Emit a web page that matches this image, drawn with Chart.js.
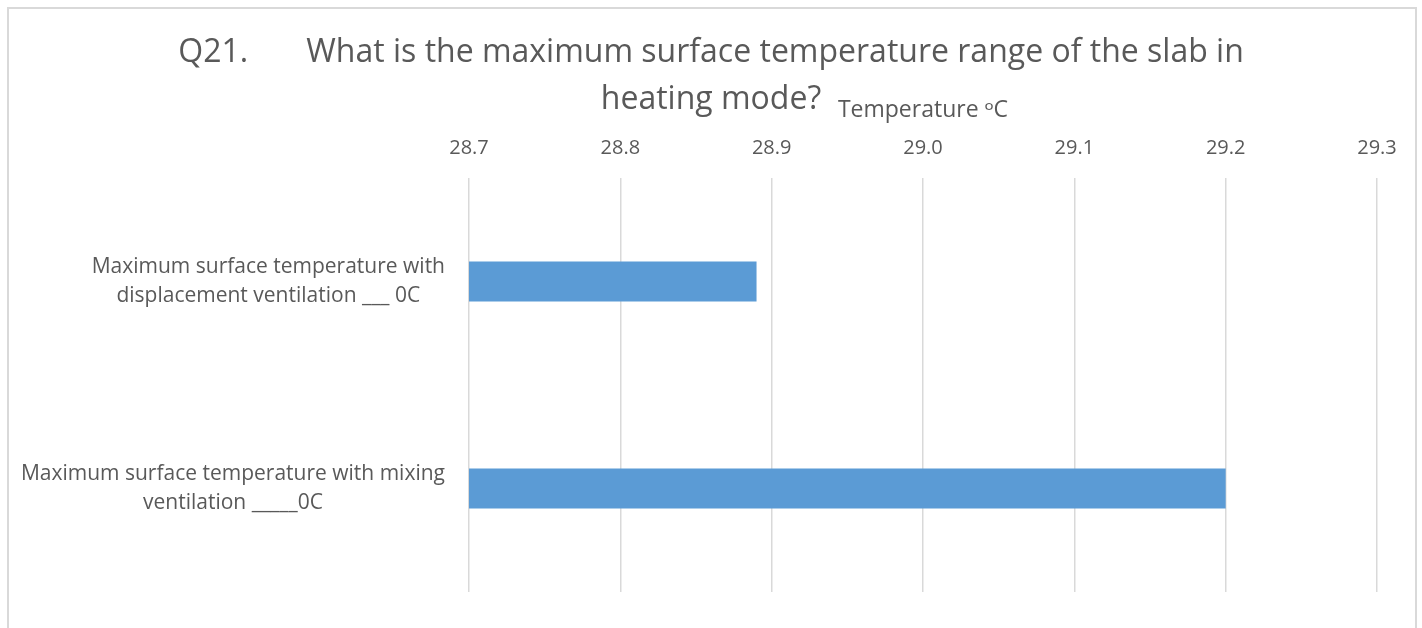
<!DOCTYPE html>
<html>
<head>
<meta charset="utf-8">
<script src="https://cdn.jsdelivr.net/npm/chart.js@4.4.1/dist/chart.umd.min.js"></script>
<style>
  html, body { margin: 0; padding: 0; background: #ffffff; }
  #wrap { position: relative; width: 1422px; height: 628px; }
</style>
</head>
<body>
<div id="wrap"><canvas id="c" width="1422" height="628"></canvas></div>
<script>
// ---- data ----
const categories = [
  ["Maximum surface temperature with", "displacement ventilation ___ 0C"],
  ["Maximum surface temperature with mixing", "ventilation _____0C"]
];
const values = [28.89, 29.20];
const titleLines = ["Q21.       What is the maximum surface temperature range of the slab in", "heating mode?"];
const axisTitle = "Temperature \u1D52C";
const xMin = 28.7, xMax = 29.3, xStep = 0.1;

const FONT = "'Open Sans', 'Noto Sans', sans-serif";
const TEXT = '#595959';
const GRID = '#d9d9d9';

const framePlugin = {
  id: 'frame',
  beforeDraw(chart) {
    const ctx = chart.ctx;
    ctx.save();
    ctx.fillStyle = '#ffffff';
    ctx.fillRect(0, 0, chart.width, chart.height);
    ctx.strokeStyle = GRID;
    ctx.lineWidth = 2;
    ctx.strokeRect(8, 8, 1408, 640);
    ctx.restore();
  }
};

const titlePlugin = {
  id: 'customTitle',
  afterDraw(chart) {
    const ctx = chart.ctx;
    ctx.save();
    ctx.fillStyle = TEXT;
    ctx.font = "32px " + FONT;
    ctx.textAlign = 'center';
    ctx.textBaseline = 'alphabetic';
    ctx.fillText(titleLines[0], 711, 62);
    ctx.fillText(titleLines[1], 711, 109);
    ctx.restore();
  }
};

const catLabelPlugin = {
  id: 'catLabels',
  afterDraw(chart) {
    const ctx = chart.ctx;
    const y = chart.scales.y;
    ctx.save();
    ctx.fillStyle = TEXT;
    ctx.font = "21px " + FONT;
    ctx.textBaseline = 'alphabetic';
    ctx.textAlign = 'center';
    const lh = 29;
    const right = 445;
    categories.forEach((lines, i) => {
      const cy = y.getPixelForValue(i);
      const w = Math.max(...lines.map(l => ctx.measureText(l).width));
      const cx = right - w / 2;
      const firstBase = cy - (lines.length - 1) * lh / 2 + 6;
      lines.forEach((l, k) => ctx.fillText(l, cx, firstBase + k * lh));
    });
    ctx.restore();
  }
};

new Chart(document.getElementById('c'), {
  type: 'bar',
  data: {
    labels: categories,
    datasets: [{
      data: values,
      backgroundColor: '#5B9BD5',
      borderWidth: 0,
      categoryPercentage: 1,
      barPercentage: 0.193
    }]
  },
  options: {
    indexAxis: 'y',
    responsive: false,
    animation: false,
    devicePixelRatio: 1,
    layout: { padding: { left: 0, right: 45, top: 0, bottom: 36 } },
    plugins: {
      legend: { display: false },
      title: { display: false },
      tooltip: { enabled: false }
    },
    scales: {
      x: {
        position: 'top',
        min: xMin,
        max: xMax,
        afterFit(scale) { scale.height = 178; },
        ticks: {
          stepSize: xStep,
          color: TEXT,
          font: { family: FONT, size: 20 },
          padding: 18,
          callback: (v) => Number(v).toFixed(1)
        },
        grid: { color: GRID, lineWidth: 1.5, drawTicks: false },
        border: { display: false },
        title: {
          display: true,
          text: axisTitle,
          color: TEXT,
          font: { family: FONT, size: 23 },
          padding: { top: 97, bottom: 0 }
        }
      },
      y: {
        afterFit(scale) { scale.width = 469; },
        ticks: { display: false },
        grid: { display: false },
        border: { display: false }
      }
    }
  },
  plugins: [framePlugin, titlePlugin, catLabelPlugin]
});
</script>
</body>
</html>
